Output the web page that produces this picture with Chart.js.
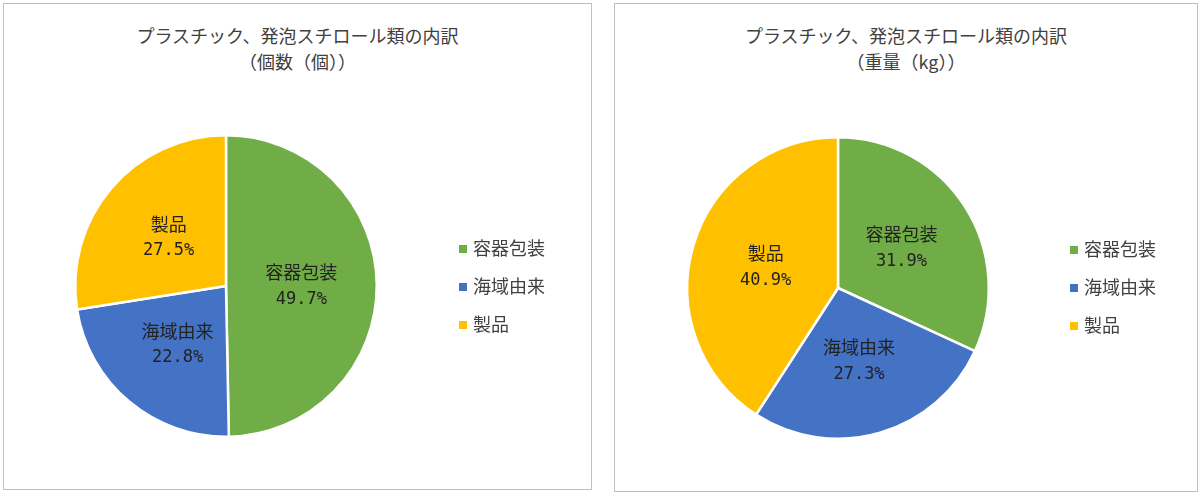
<!DOCTYPE html>
<html>
<head>
<meta charset="utf-8">
<script src="https://cdn.jsdelivr.net/npm/chart.js@4"></script>
<style>
body { margin: 0; background: #fff; font-family: "Noto Sans CJK JP", sans-serif; }
.panel { position: absolute; border: 1px solid #bfbfbf; background: #fff; }
.panel canvas { position: absolute; left: 0; top: 0; }
.title { position: absolute; left: 0; right: 0; top: 18px; text-align: center; font-size: 18px; line-height: 26px; color: #404040; }
.legend { position: absolute; font-size: 18px; color: #404040; }
.legend div { height: 38px; line-height: 38px; }
.legend span { display: inline-block; width: 8px; height: 8px; margin-right: 6px; vertical-align: middle; position: relative; top: -1px; }
</style>
</head>
<body>
<div class="panel" id="p1" style="left:3px;top:3px;width:587px;height:485px;">
  <div class="title">プラスチック、発泡スチロール類の内訳<br>（個数（個））</div>
  <canvas id="c1" width="587" height="485"></canvas>
  <div class="legend" style="left:455px;top:224px;">
    <div><span style="background:#70AD47"></span>容器包装</div>
    <div><span style="background:#4472C4"></span>海域由来</div>
    <div><span style="background:#FFC000"></span>製品</div>
  </div>
</div>
<div class="panel" id="p2" style="left:614px;top:3px;width:582px;height:487px;">
  <div class="title">プラスチック、発泡スチロール類の内訳<br>（重量（kg））</div>
  <canvas id="c2" width="582" height="487"></canvas>
  <div class="legend" style="left:455px;top:225px;">
    <div><span style="background:#70AD47"></span>容器包装</div>
    <div><span style="background:#4472C4"></span>海域由来</div>
    <div><span style="background:#FFC000"></span>製品</div>
  </div>
</div>
<script>
// Data
const categories = ['容器包装', '海域由来', '製品'];
const countShares = [49.7, 22.8, 27.5];
const weightShares = [31.9, 27.3, 40.9];
const colors = ['#70AD47', '#4472C4', '#FFC000'];

// Labels drawn inside each slice
const sliceLabels = {
    id: 'sliceLabels',
    afterDatasetsDraw(chart) {
        const ctx = chart.ctx;
        const ds = chart.data.datasets[0];
        chart.getDatasetMeta(0).data.forEach((arc, i) => {
            const pos = arc.tooltipPosition();
            ctx.save();
            ctx.fillStyle = '#222';
            ctx.textAlign = 'center';
            ctx.textBaseline = 'middle';
            ctx.font = '18px "Noto Sans CJK JP"';
            ctx.fillText(chart.data.labels[i], pos.x, pos.y - 13);
            ctx.font = '17px "DejaVu Sans Mono", "Noto Sans CJK JP"';
            ctx.fillText(ds.data[i].toFixed(1) + '%', pos.x, pos.y + 14);
            ctx.restore();
        });
    }
};

function makePie(id, values, padding) {
    new Chart(document.getElementById(id), {
        type: 'pie',
        data: {
            labels: categories,
            datasets: [{
                data: values,
                backgroundColor: colors,
                borderColor: '#fff',
                borderWidth: 2.5
            }]
        },
        options: {
            responsive: false,
            animation: false,
            layout: { padding: padding },
            plugins: {
                legend: { display: false },
                tooltip: { enabled: false }
            }
        },
        plugins: [sliceLabels]
    });
}

makePie('c1', countShares, { left: 70, right: 213, top: 130, bottom: 51 });
makePie('c2', weightShares, { left: 71, right: 207, top: 132, bottom: 51 });
</script>
</body>
</html>
